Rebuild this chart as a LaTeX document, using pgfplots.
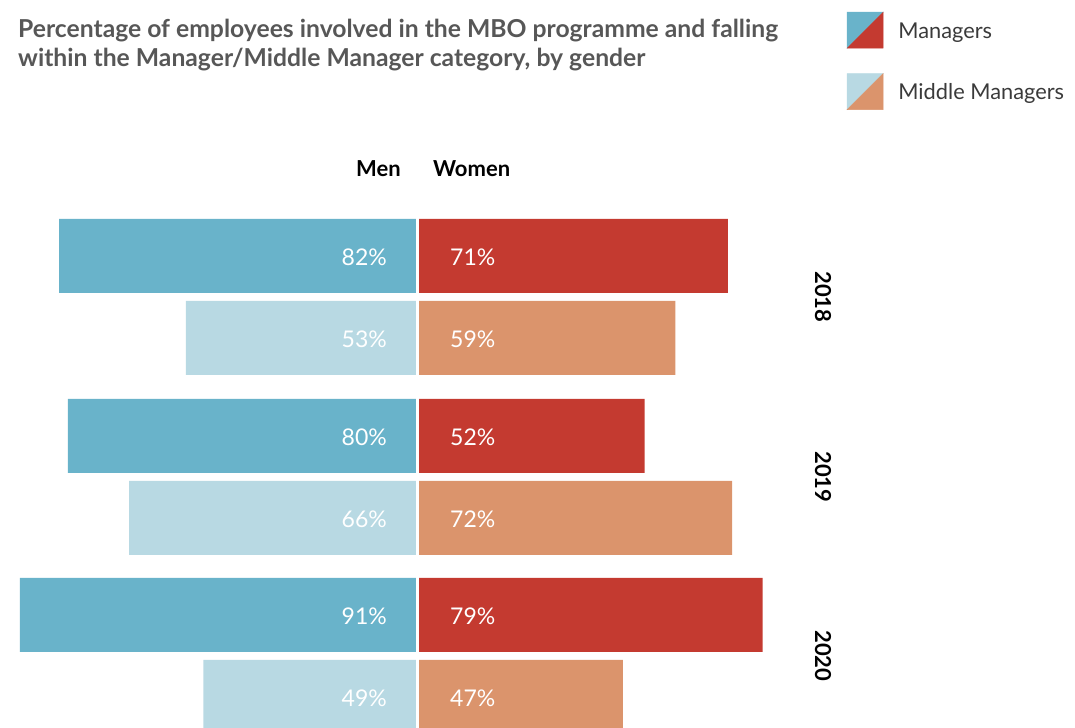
\documentclass[border=0pt]{standalone}
\usepackage{pgfplots}
\pgfplotsset{compat=1.18}
\usepackage{fontspec}
\setmainfont{Lato}
\definecolor{mblue}{HTML}{69B3CA}
\definecolor{mred}{HTML}{C43A30}
\definecolor{lblue}{HTML}{B8D9E3}
\definecolor{morange}{HTML}{DB946C}
\definecolor{titlegray}{HTML}{575757}
\definecolor{legtext}{HTML}{3A3A3A}
\newcommand\labfont{\fontsize{23}{25}\selectfont}
\newcommand\titlefont{\fontsize{24.7}{29}\selectfont\bfseries}
\newcommand\headfont{\fontsize{22}{24}\selectfont\bfseries}
\begin{document}
\begin{tikzpicture}
\begin{axis}[
  scale only axis, width=1075pt, height=728pt,
  xmin=-95.54, xmax=150.46, ymin=-728, ymax=0,
  hide axis, clip=true,
  legend style={at={(axis cs:98.28,-12)}, anchor=north west, draw=none, fill=none,
    inner sep=0pt, outer sep=0pt, row sep=25pt, font=\fontsize{21.8}{24}\selectfont,
    text=legtext, nodes={inner sep=0pt},
    /tikz/every odd column/.append style={column sep=15pt}},
  legend cell align=left,
]
\addlegendimage{legend image code/.code={
  \fill[mblue] (0pt,-11pt) -- (0pt,25pt) -- (36pt,25pt) -- cycle;
  \fill[mred] (0pt,-11pt) -- (36pt,25pt) -- (36pt,-11pt) -- cycle;}}
\addlegendentry[yshift=6pt]{Managers}
\addlegendimage{legend image code/.code={
  \fill[lblue] (0pt,-11pt) -- (0pt,25pt) -- (36pt,25pt) -- cycle;
  \fill[morange] (0pt,-11pt) -- (36pt,25pt) -- (36pt,-11pt) -- cycle;}}
\addlegendentry[yshift=6pt]{Middle Managers}

% Managers: men (negative) and women
\addplot[xbar, bar shift=0pt, bar width=74, fill=mblue, draw=none, forget plot]
  coordinates {(-82,-256) (-80,-436) (-91,-615)};
\addplot[xbar, bar shift=0pt, bar width=74, fill=mred, draw=none, forget plot]
  coordinates {(71,-256) (52,-436) (79,-615)};
% Middle managers
\addplot[xbar, bar shift=0pt, bar width=74, fill=lblue, draw=none, forget plot]
  coordinates {(-53,-338) (-66,-518) (-49,-697)};
\addplot[xbar, bar shift=0pt, bar width=74, fill=morange, draw=none, forget plot]
  coordinates {(59,-338) (72,-518) (47,-697)};

\draw[white, line width=3pt] (axis cs:0,-200) -- (axis cs:0,-728);

% value labels
\addplot[draw=none, mark=none, forget plot, point meta=explicit symbolic, nodes near coords,
  nodes near coords style={anchor=east, text=white, font=\labfont, inner sep=0pt}]
  coordinates {(-6.98,-257) [82\%] (-6.98,-339) [53\%] (-6.98,-437) [80\%]
               (-6.98,-519) [66\%] (-6.98,-616) [91\%] (-6.98,-698) [49\%]};
\addplot[draw=none, mark=none, forget plot, point meta=explicit symbolic, nodes near coords,
  nodes near coords style={anchor=west, text=white, font=\labfont, inner sep=0pt}]
  coordinates {(7.44,-257) [71\%] (7.44,-339) [59\%] (7.44,-437) [52\%]
               (7.44,-519) [72\%] (7.44,-616) [79\%] (7.44,-698) [47\%]};
% year labels
\addplot[draw=none, mark=none, forget plot, point meta=explicit symbolic, nodes near coords,
  nodes near coords style={anchor=center, rotate=-90, text=black, font=\headfont, inner sep=0pt}]
  coordinates {(92.79,-297) [2018] (92.79,-477) [2019] (92.79,-656) [2020]};

\node[anchor=base west, font=\titlefont, text=titlegray, inner sep=0pt] at (axis cs:-91.42,-38)
  {Percentage of employees involved in the MBO programme and falling};
\node[anchor=base west, font=\titlefont, text=titlegray, inner sep=0pt] at (axis cs:-91.42,-67)
  {within the Manager/Middle Manager category, by gender};
\node[anchor=base east, font=\headfont, inner sep=0pt] at (axis cs:-3.78,-177) {Men};
\node[anchor=base west, font=\headfont, inner sep=0pt] at (axis cs:3.55,-177) {Women};
\end{axis}
\pgfresetboundingbox
\path (current axis.south west) rectangle (current axis.north east);
\end{tikzpicture}
\end{document}
